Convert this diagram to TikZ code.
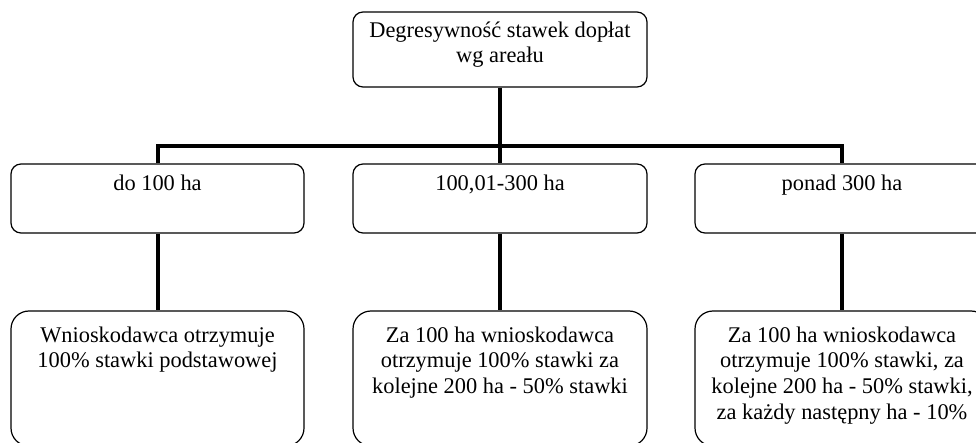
\documentclass[tikz,border=0pt]{standalone}
\usepackage{fontspec}
\setmainfont{Liberation Serif}
\begin{document}
\begin{tikzpicture}[x=1pt,y=-1pt,
  box/.style={draw=black, line width=1.2pt, rounded corners=10pt, inner sep=0pt},
  bigbox/.style={box, rounded corners=18pt},
  txt/.style={inner sep=0pt, anchor=north, align=center, font=\fontsize{22.4}{25.7}\selectfont},
  conn/.style={line width=4pt, line join=miter, line cap=butt}]
\useasboundingbox (0,0) rectangle (976,443);
% boxes
\node[box, minimum width=294pt, minimum height=75pt] (top) at (500,49.5) {};
\node[box, minimum width=293pt, minimum height=69pt] (m1) at (157.5,198.5) {};
\node[box, minimum width=294pt, minimum height=69pt] (m2) at (500,198.5) {};
\node[box, minimum width=294pt, minimum height=69pt] (m3) at (842,198.5) {};
\node[bigbox, minimum width=293pt, minimum height=135pt] (b1) at (157.5,378.5) {};
\node[bigbox, minimum width=294pt, minimum height=135pt] (b2) at (500,378.5) {};
\node[bigbox, minimum width=294pt, minimum height=135pt] (b3) at (842,378.5) {};
% texts
\node[txt] (ttop) at (500,20) {\rule{0pt}{17pt}Degresywność stawek dopłat\\wg areału};
\node[txt] (tm1) at (157.5,173) {\rule{0pt}{17pt}do 100 ha};
\node[txt] (tm2) at (500,173) {\rule{0pt}{17pt}100,01-300 ha};
\node[txt] (tm3) at (842,173) {\rule{0pt}{17pt}ponad 300 ha};
\node[txt] (tb1) at (157.5,325) {\rule{0pt}{17pt}Wnioskodawca otrzymuje\\100\% stawki podstawowej};
\node[txt] (tb2) at (500,325) {\rule{0pt}{17pt}Za 100 ha wnioskodawca\\otrzymuje 100\% stawki za\\kolejne 200 ha - 50\% stawki};
\node[txt] (tb3) at (842,325) {\rule{0pt}{17pt}Za 100 ha wnioskodawca\\otrzymuje 100\% stawki, za\\kolejne 200 ha - 50\% stawki,\\za każdy następny ha - 10\%};
% connectors
\coordinate (bar) at (500,146);
\draw[conn] (top.south) -- (m2.north);
\draw[conn] (m1.north) -- (m1.north |- bar) -- (m3.north |- bar) -- (m3.north);
\draw[conn] (m1.south) -- (b1.north);
\draw[conn] (m2.south) -- (b2.north);
\draw[conn] (m3.south) -- (b3.north);
\end{tikzpicture}
\end{document}
